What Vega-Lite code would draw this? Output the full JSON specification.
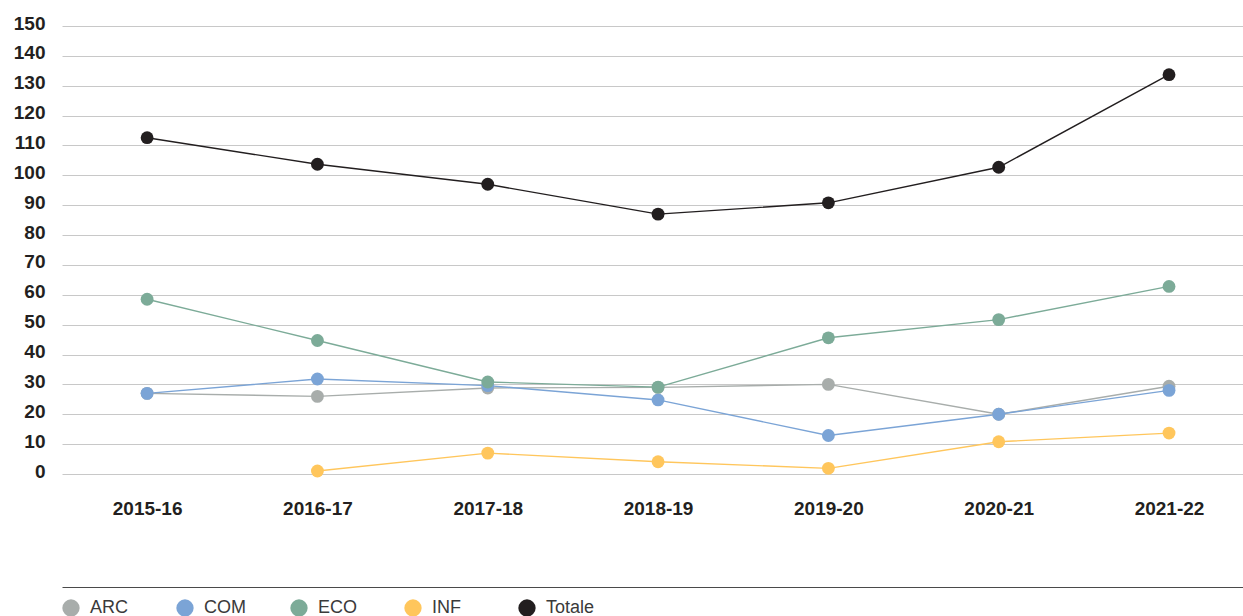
{
  "$schema": "https://vega.github.io/schema/vega-lite/v6.json",
  "width": 1181,
  "height": 448,
  "autosize": {"type": "none"},
  "padding": {"left": 62, "top": 26, "right": 0, "bottom": 142},
  "background": "white",
  "config": {"view": {"stroke": null}, "font": "Liberation Sans", "point": {"size": 165}},
  "data": {
    "values": [
      {"anno": "2015-16", "serie": "ARC", "valore": 27},
      {"anno": "2016-17", "serie": "ARC", "valore": 26},
      {"anno": "2017-18", "serie": "ARC", "valore": 28.8},
      {"anno": "2018-19", "serie": "ARC", "valore": 29},
      {"anno": "2019-20", "serie": "ARC", "valore": 30},
      {"anno": "2020-21", "serie": "ARC", "valore": 20},
      {"anno": "2021-22", "serie": "ARC", "valore": 29.4},
      {"anno": "2015-16", "serie": "COM", "valore": 27},
      {"anno": "2016-17", "serie": "COM", "valore": 31.8},
      {"anno": "2017-18", "serie": "COM", "valore": 29.6},
      {"anno": "2018-19", "serie": "COM", "valore": 24.8},
      {"anno": "2019-20", "serie": "COM", "valore": 12.9},
      {"anno": "2020-21", "serie": "COM", "valore": 20},
      {"anno": "2021-22", "serie": "COM", "valore": 28},
      {"anno": "2015-16", "serie": "ECO", "valore": 58.5},
      {"anno": "2016-17", "serie": "ECO", "valore": 44.7},
      {"anno": "2017-18", "serie": "ECO", "valore": 30.8},
      {"anno": "2018-19", "serie": "ECO", "valore": 29.1},
      {"anno": "2019-20", "serie": "ECO", "valore": 45.6},
      {"anno": "2020-21", "serie": "ECO", "valore": 51.7},
      {"anno": "2021-22", "serie": "ECO", "valore": 62.8},
      {"anno": "2016-17", "serie": "INF", "valore": 1},
      {"anno": "2017-18", "serie": "INF", "valore": 7},
      {"anno": "2018-19", "serie": "INF", "valore": 4.1},
      {"anno": "2019-20", "serie": "INF", "valore": 1.9},
      {"anno": "2020-21", "serie": "INF", "valore": 10.8},
      {"anno": "2021-22", "serie": "INF", "valore": 13.7},
      {"anno": "2015-16", "serie": "Totale", "valore": 112.6},
      {"anno": "2016-17", "serie": "Totale", "valore": 103.7},
      {"anno": "2017-18", "serie": "Totale", "valore": 97},
      {"anno": "2018-19", "serie": "Totale", "valore": 87},
      {"anno": "2019-20", "serie": "Totale", "valore": 90.8},
      {"anno": "2020-21", "serie": "Totale", "valore": 102.7},
      {"anno": "2021-22", "serie": "Totale", "valore": 133.7}
    ]
  },
  "encoding": {
    "y": {
      "field": "valore",
      "type": "quantitative",
      "scale": {"domain": [0, 150]},
      "axis": {
        "title": null,
        "values": [0, 10, 20, 30, 40, 50, 60, 70, 80, 90, 100, 110, 120, 130, 140, 150],
        "domain": false,
        "ticks": false,
        "tickSize": 0,
        "grid": true,
        "gridColor": "#c8c8c8",
        "gridWidth": 1,
        "labelFont": "Liberation Sans",
        "labelFontWeight": "bold",
        "labelFontSize": 19,
        "labelColor": "#231f20",
        "labelAlign": "right",
        "labelBaseline": "alphabetic",
        "labelOffset": 3,
        "labelPadding": 17
      }
    },
    "color": {
      "field": "serie",
      "type": "nominal",
      "scale": {
        "domain": ["ARC", "COM", "ECO", "INF", "Totale"],
        "range": ["#a8adab", "#7ba4d6", "#7cab98", "#ffc65c", "#221e1f"]
      },
      "legend": {
        "title": null,
        "orient": "none",
        "legendX": 0,
        "legendY": 573,
        "direction": "horizontal",
        "gridAlign": "all",
        "columnPadding": 37,
        "padding": 0,
        "symbolType": "circle",
        "symbolSize": 300,
        "symbolStrokeWidth": 0,
        "symbolOpacity": 1,
        "labelOffset": 10,
        "labelFont": "Liberation Sans",
        "labelFontSize": 18,
        "labelColor": "#3a3a3a",
        "labelBaseline": "middle"
      }
    }
  },
  "layer": [
    {
      "mark": {"type": "line", "strokeWidth": 1.4},
      "encoding": {
        "x": {
          "field": "anno",
          "type": "ordinal",
          "sort": null,
          "scale": {"type": "point", "padding": 0.467, "align": 0.535},
          "axis": {
            "title": null,
            "orient": "bottom",
            "domain": false,
            "ticks": false,
            "tickSize": 0,
            "grid": false,
            "labelAngle": 0,
            "labelFont": "Liberation Sans",
            "labelFontWeight": "bold",
            "labelFontSize": 19,
            "labelColor": "#231f20",
            "labelBaseline": "alphabetic",
            "labelPadding": 40
          }
        }
      }
    },
    {
      "mark": {"type": "point", "filled": true, "opacity": 1},
      "encoding": {
        "x": {
          "field": "anno",
          "type": "ordinal",
          "sort": null,
          "scale": {"type": "point", "padding": 0.467, "align": 0.535},
          "axis": {
            "title": null,
            "orient": "bottom",
            "offset": 113,
            "domain": true,
            "domainColor": "#4a4a4a",
            "domainWidth": 1,
            "labels": false,
            "ticks": false,
            "tickSize": 0,
            "grid": false
          }
        }
      }
    }
  ],
  "resolve": {"axis": {"x": "independent"}}
}
